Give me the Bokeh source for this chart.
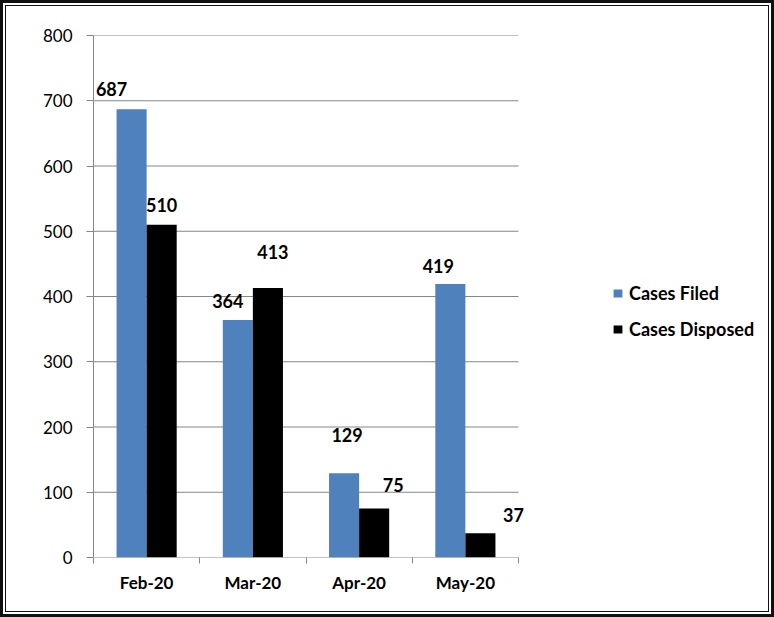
from bokeh.plotting import figure
from bokeh.models import (Range1d, FixedTicker, ColumnDataSource, Legend, LegendItem,
                          LabelSet)
from bokeh.core.properties import value
from bokeh.embed import file_html
from bokeh.resources import INLINE

months = ["Feb-20", "Mar-20", "Apr-20", "May-20"]
cases_filed = [687, 364, 129, 419]
cases_disposed = [510, 413, 75, 37]
y_ticks = [0, 100, 200, 300, 400, 500, 600, 700, 800]

# label nudges (screen px) to mimic the original label placement
filed_dx = [-20, -10, 3, -12]
filed_dy = [20, 19, 38, 18]
disp_dx = [0, 5, 19, 33]
disp_dy = [20, 36, 24, 18]

BLUE = "#4F81BD"
GRID = "#868686"
FONT = "Lato"

W, H = 774, 617
LEFT, TOP, BOTTOM = 93, 35, 60
PLOT_W = 425  # pixel width of the 4 category slots
n = len(months)
centers = [i + 0.5 for i in range(n)]
off = 0.1415
bw = 0.283
x_end = n * (W - LEFT) / PLOT_W

p = figure(width=W, height=H, output_backend="svg", toolbar_location=None,
           x_range=Range1d(0, x_end), y_range=Range1d(0, 800),
           min_border_left=LEFT, min_border_right=0, min_border_top=TOP,
           min_border_bottom=BOTTOM)
p.outline_line_color = None
p.background_fill_color = None
p.border_fill_color = None
p.styles = {"background-color": "white",
            "box-shadow": "inset 0 0 0 3px #111, inset 0 0 0 5px #fff, inset 0 0 0 6px #111"}

# gridlines limited to the category area
p.segment(x0=[0] * len(y_ticks[1:]), x1=[n] * len(y_ticks[1:]), y0=y_ticks[1:], y1=y_ticks[1:],
          line_color=GRID, line_width=1)

src_f = ColumnDataSource(dict(x=[c - off for c in centers], top=cases_filed,
                              lab=[str(v) for v in cases_filed], dx=filed_dx, dy=filed_dy))
src_d = ColumnDataSource(dict(x=[c + off for c in centers], top=cases_disposed,
                              lab=[str(v) for v in cases_disposed], dx=disp_dx, dy=disp_dy))

r_f = p.vbar(x="x", top="top", width=bw, bottom=0, source=src_f,
             fill_color=BLUE, line_color=None)
r_d = p.vbar(x="x", top="top", width=bw, bottom=0, source=src_d,
             fill_color="black", line_color=None)

# x axis line limited to the category area
p.segment(x0=[0], x1=[n], y0=[0], y1=[0], line_color=GRID, line_width=1)

for s in (src_f, src_d):
    p.add_layout(LabelSet(x="x", y="top", text="lab", source=s, x_offset="dx", y_offset="dy",
                          text_align="center", text_baseline="middle",
                          text_font=value(FONT), text_font_style="bold",
                          text_font_size="18px", text_color="black"))

# axes
p.yaxis.ticker = FixedTicker(ticks=y_ticks)
p.yaxis.axis_line_color = GRID
p.yaxis.major_tick_line_color = GRID
p.yaxis.major_tick_in = 0
p.yaxis.major_tick_out = 7
p.yaxis.minor_tick_line_color = None
p.yaxis.major_label_standoff = 14
p.yaxis.major_label_text_font = FONT
p.yaxis.major_label_text_font_size = "17px"
p.yaxis.major_label_text_color = "black"

p.xaxis.ticker = FixedTicker(ticks=centers, minor_ticks=list(range(n + 1)))
p.xaxis.major_label_overrides = {c: m for c, m in zip(centers, months)}
p.xaxis.axis_line_color = None
p.xaxis.major_tick_line_color = None
p.xaxis.minor_tick_line_color = GRID
p.xaxis.minor_tick_in = 0
p.xaxis.minor_tick_out = 6
p.xaxis.major_label_standoff = 8
p.xaxis.major_label_text_font = FONT
p.xaxis.major_label_text_font_style = "bold"
p.xaxis.major_label_text_font_size = "17px"
p.xaxis.major_label_text_color = "black"

p.xgrid.grid_line_color = None
p.ygrid.grid_line_color = None

legend = Legend(items=[LegendItem(label="Cases Filed", renderers=[r_f]),
                       LegendItem(label="Cases Disposed", renderers=[r_d])],
                location=(519, 217), padding=0, margin=0, spacing=14,
                glyph_width=11, glyph_height=10, label_standoff=6,
                label_text_font=FONT, label_text_font_style="bold",
                label_text_font_size="18px", label_text_color="black",
                border_line_color=None, background_fill_alpha=0)
p.add_layout(legend, "center")

open("out.html", "w").write(file_html(p, INLINE))
